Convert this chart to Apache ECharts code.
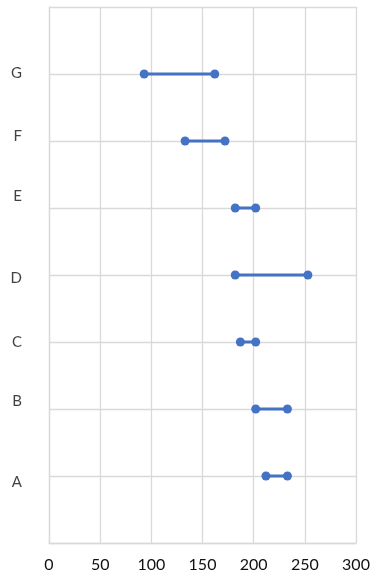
<!DOCTYPE html>
<html>
<head>
<meta charset="utf-8">
<script src="https://cdn.jsdelivr.net/npm/echarts@6/dist/echarts.min.js"></script>
<style>
  html, body { margin: 0; padding: 0; background: #fff; }
  #chart { width: 373px; height: 579px; }
</style>
</head>
<body>
<div id="chart"></div>
<script>
// Categories from bottom (A) to top (G)
const categories = ['A', 'B', 'C', 'D', 'E', 'F', 'G'];
// Row of each dumbbell on the vertical value scale
const rowValues = [1, 2, 3, 4, 5, 6, 7];
// Low and high end of each range
const lowValues = [212, 202, 187, 182, 182, 133, 93];
const highValues = [233, 233, 202, 253, 202, 172, 162];
// Where the category names sit on the vertical scale
const labelPos = [0.91, 2.12, 3.0, 3.96, 5.18, 6.07, 7.01];
// Horizontal tick values
const xTicks = [0, 50, 100, 150, 200, 250, 300];

const blue = '#4472C4';
const gridColor = '#d9d9d9';

// One dumbbell (two dots joined by a bar) per category
const series = categories.map((c, i) => ({
  name: c,
  type: 'line',
  data: [[lowValues[i], rowValues[i]], [highValues[i], rowValues[i]]],
  symbol: 'circle',
  symbolSize: 9,
  showSymbol: true,
  lineStyle: { color: blue, width: 3 },
  itemStyle: { color: blue },
  silent: true,
  z: 3
}));

// Category names along the left edge
series.push({
  name: 'names',
  type: 'scatter',
  symbolSize: 0,
  data: categories.map((c, i) => ({ value: [xTicks[0], labelPos[i]], name: c })),
  label: {
    show: true,
    position: 'left',
    distance: 27,
    formatter: p => p.name,
    fontFamily: 'Lato',
    fontSize: 15,
    color: '#111'
  },
  silent: true
});

const chart = echarts.init(document.getElementById('chart'), null, { renderer: 'canvas' });
chart.setOption({
  animation: false,
  backgroundColor: '#fff',
  grid: { left: 49, right: 17, top: 7, bottom: 36, containLabel: false },
  xAxis: {
    type: 'value',
    min: xTicks[0],
    max: xTicks[xTicks.length - 1],
    interval: 50,
    axisLine: { show: true, lineStyle: { color: gridColor, width: 1.3 } },
    axisTick: { show: false },
    splitLine: { show: true, lineStyle: { color: gridColor, width: 1.3 } },
    axisLabel: { fontFamily: 'Lato', fontSize: 16, color: '#111', margin: 14,
      formatter: v => xTicks.includes(v) ? String(v) : '' }
  },
  yAxis: {
    type: 'value',
    min: 0,
    max: 8,
    interval: 1,
    axisLine: { show: true, lineStyle: { color: gridColor, width: 1.3 } },
    axisTick: { show: false },
    axisLabel: { show: false },
    splitLine: { show: true, lineStyle: { color: gridColor, width: 1.3 } }
  },
  series: series
});
</script>
</body>
</html>
